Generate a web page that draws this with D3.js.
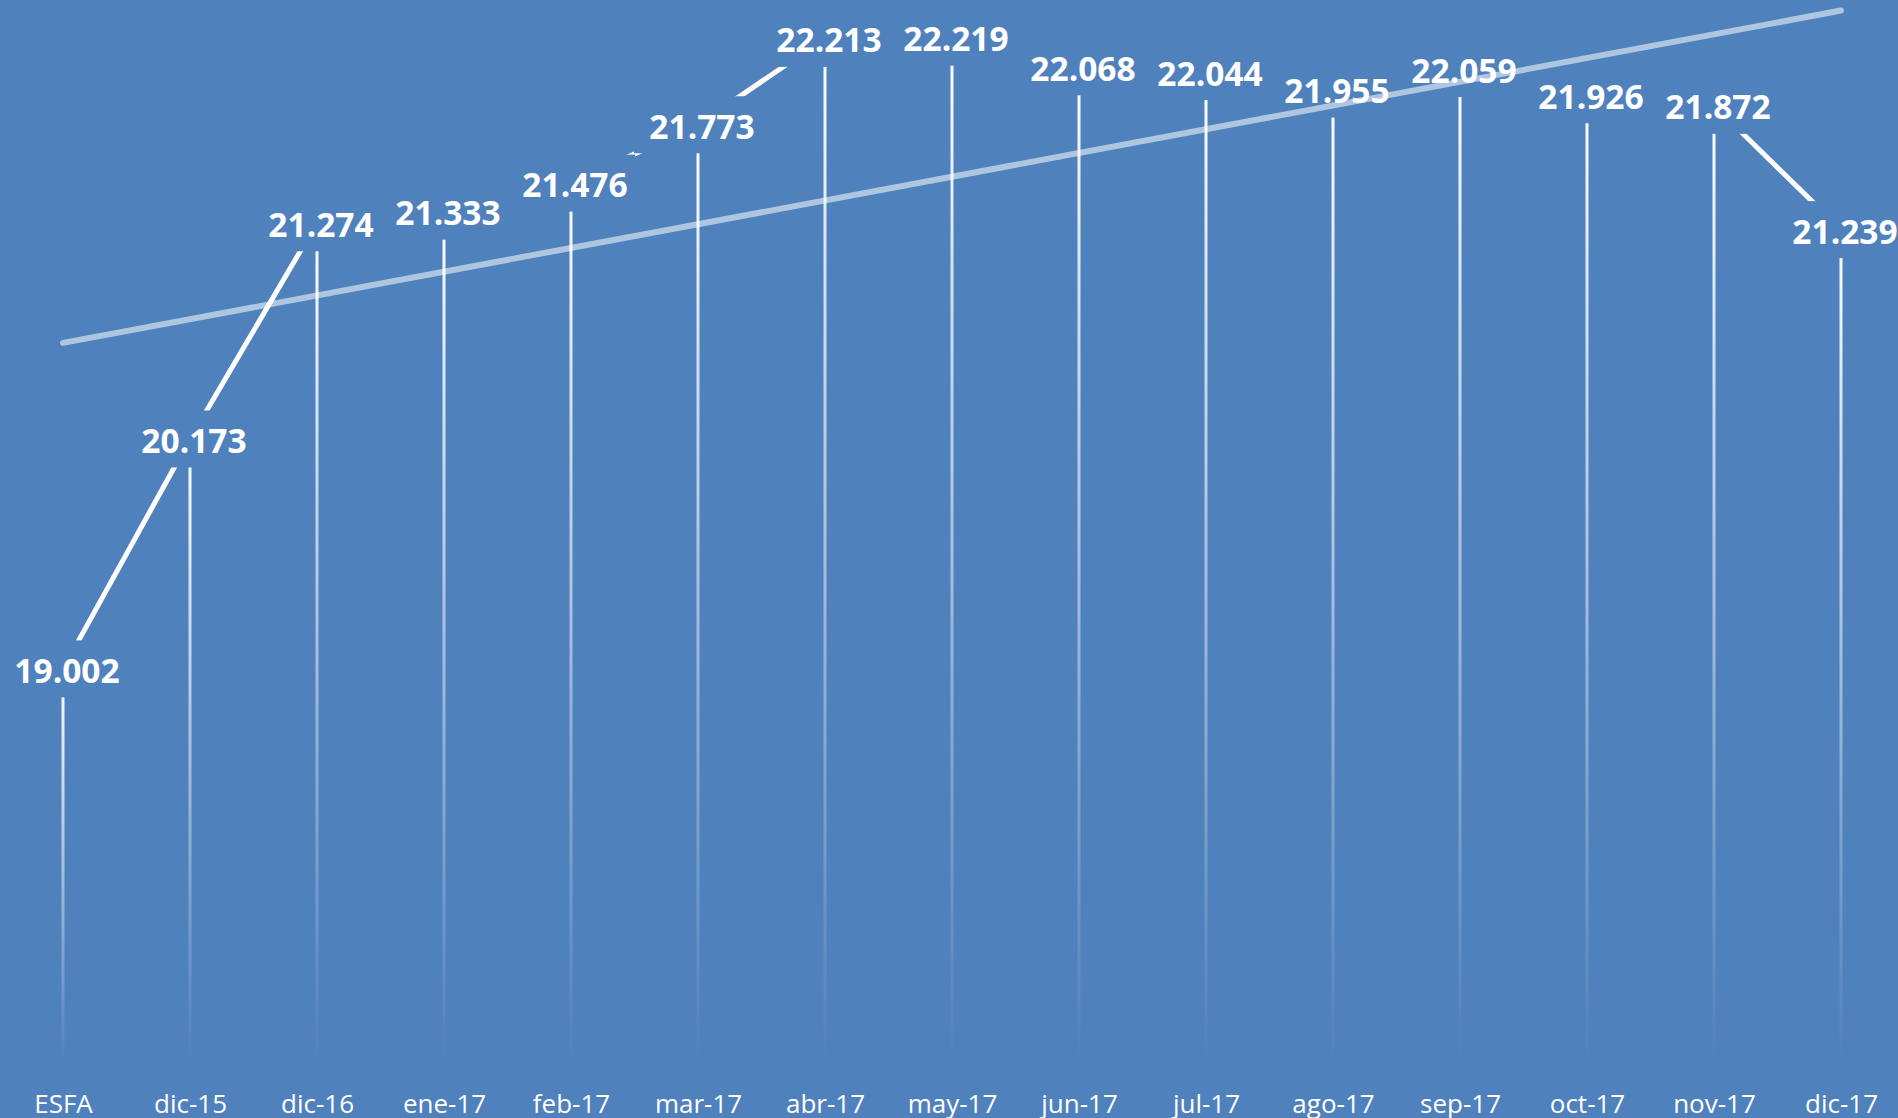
<!DOCTYPE html>
<html>
<head>
<meta charset="utf-8">
<script src="https://cdn.jsdelivr.net/npm/d3@7"></script>
<style>
  html, body { margin: 0; padding: 0; background: #4f81bd; overflow: hidden; }
  svg { display: block; }
</style>
</head>
<body>
<svg id="chart" width="1898" height="1118"></svg>
<script>
// ---- data ----
const categories = ["ESFA", "dic-15", "dic-16", "ene-17", "feb-17", "mar-17", "abr-17", "may-17", "jun-17", "jul-17", "ago-17", "sep-17", "oct-17", "nov-17", "dic-17"];
const values = [19.002, 20.173, 21.274, 21.333, 21.476, 21.773, 22.213, 22.219, 22.068, 22.044, 21.955, 22.059, 21.926, 21.872, 21.239];
const labelTexts = ["19.002", "20.173", "21.274", "21.333", "21.476", "21.773", "22.213", "22.219", "22.068", "22.044", "21.955", "22.059", "21.926", "21.872", "21.239"];
const yDomain = [17, 22.5];

// ---- layout ----
const W = 1898, H = 1118;
const bg = "#4f81bd";
const svg = d3.select("#chart");
svg.append("rect").attr("width", W).attr("height", H).attr("fill", bg);

const x = d3.scalePoint().domain(categories).range([63, 1841]);
const y = d3.scaleLinear().domain(yDomain).range([1062, 1062 - (yDomain[1] - yDomain[0]) * 196.36]);

const data = categories.map((c, i) => ({ c, v: values[i], t: labelTexts[i], i }));

// gradient for drop lines (per-line bounding box)
const defs = svg.append("defs");
const grad = defs.append("linearGradient").attr("id", "dropGrad")
  .attr("x1", 0).attr("y1", 0).attr("x2", 0).attr("y2", 1);
grad.append("stop").attr("offset", "0%").attr("stop-color", "#ffffff").attr("stop-opacity", 1);
grad.append("stop").attr("offset", "100%").attr("stop-color", "#ffffff").attr("stop-opacity", 0);

// linear trend line (least squares over the series)
const n = values.length;
const mx = d3.mean(data, d => d.i), my = d3.mean(values);
const slope = d3.sum(data, d => (d.i - mx) * (d.v - my)) / d3.sum(data, d => (d.i - mx) ** 2);
const icpt = my - slope * mx;
const trend = [0, n - 1].map(i => ({ c: categories[i], v: icpt + slope * i }));

// drop lines
svg.append("g").selectAll("rect").data(data).join("rect")
  .attr("x", d => x(d.c) - 1.5)
  .attr("y", d => y(d.v))
  .attr("width", 3)
  .attr("height", d => y(yDomain[0]) - y(d.v))
  .attr("fill", "url(#dropGrad)");

// data line
svg.append("path")
  .datum(data)
  .attr("d", d3.line().x(d => x(d.c)).y(d => y(d.v)))
  .attr("stroke", "#ffffff").attr("stroke-width", 5).attr("fill", "none");

// label boxes
const lg = svg.append("g").selectAll("g").data(data).join("g")
  .attr("transform", d => `translate(${x(d.c)},${y(d.v)})`);
lg.append("rect")
  .attr("x", -64).attr("y", -28.5).attr("width", 128).attr("height", 57)
  .attr("fill", bg);

// trend line above boxes
svg.append("path")
  .datum(trend)
  .attr("d", d3.line().x(d => x(d.c)).y(d => y(d.v)))
  .attr("stroke", "#ffffff").attr("stroke-opacity", 0.55)
  .attr("stroke-width", 6).attr("stroke-linecap", "round").attr("fill", "none");

// label texts
svg.append("g").selectAll("text").data(data).join("text")
  .attr("x", d => x(d.c) + 4).attr("y", d => y(d.v) + 14)
  .attr("text-anchor", "middle")
  .attr("font-family", "'Open Sans', 'Noto Sans', sans-serif")
  .attr("font-weight", 700).attr("font-size", 33.5)
  .attr("fill", "#ffffff")
  .text(d => d.t);

// category axis labels
const xAxis = d3.axisBottom(x).tickSize(0).tickPadding(0);
const ax = svg.append("g").attr("transform", "translate(0,1092)").call(xAxis);
ax.select(".domain").remove();
ax.selectAll("text")
  .attr("font-family", "'Open Sans', 'Noto Sans', sans-serif")
  .attr("font-size", 26).attr("fill", "#ffffff")
  .attr("dy", 0).attr("y", 21);
</script>
</body>
</html>
